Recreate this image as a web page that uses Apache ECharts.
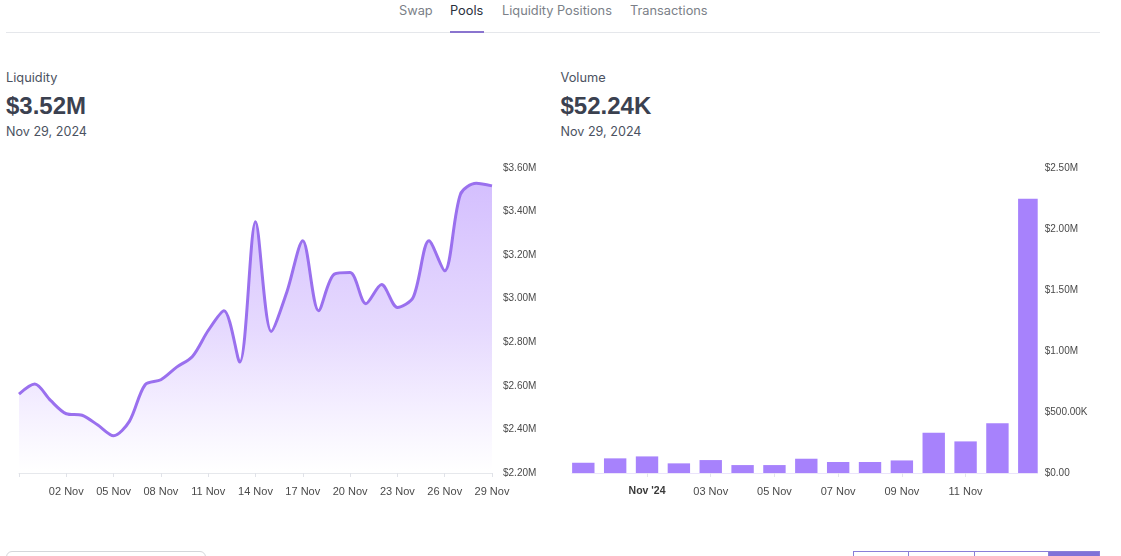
<!DOCTYPE html>
<html lang="en">
<head>
<meta charset="UTF-8">
<title>Pools</title>
<script src="https://cdn.jsdelivr.net/npm/echarts@6/dist/echarts.min.js"></script>
<style>
    html, body { margin: 0; width: 1121px; height: 556px; overflow: hidden; background: #fff; font-family: Inter, sans-serif; }
    .abs { position: absolute; white-space: nowrap; }
    .tab { top: 2px; font-size: 12.8px; line-height: 18px; color: #7b7f88; }
    .label { top: 69px; font-size: 12.8px; line-height: 18px; color: #4b5261; }
    .value { top: 91px; font-size: 24px; line-height: 30px; font-weight: 700; color: #3b4150; font-family: "Liberation Sans", sans-serif; }
    .date { top: 123px; font-size: 12.6px; line-height: 18px; color: #4b5261; }
    .btn { position: absolute; top: 551px; height: 20px; box-sizing: border-box; border: 1px solid #8a7fd8; }
</style>
</head>
<body>
<div class="abs tab" style="left:399px">Swap</div>
<div class="abs tab" style="left:450px;color:#2a303c">Pools</div>
<div class="abs tab" style="left:502px">Liquidity Positions</div>
<div class="abs tab" style="left:630px">Transactions</div>
<div class="abs" style="left:6px;top:32px;width:1094px;height:1px;background:#e5e7eb"></div>
<div class="abs" style="left:450px;top:31px;width:34px;height:2px;background:#8a74cf"></div>

<div class="abs label" style="left:6px">Liquidity</div>
<div class="abs value" style="left:6px">$3.52M</div>
<div class="abs date" style="left:6px">Nov 29, 2024</div>
<div class="abs label" style="left:560.5px">Volume</div>
<div class="abs value" style="left:560.5px">$52.24K</div>
<div class="abs date" style="left:560.5px">Nov 29, 2024</div>

<div id="liquidity" class="abs" style="left:0;top:150px;width:550px;height:360px"></div>
<div id="volume" class="abs" style="left:550px;top:150px;width:571px;height:360px"></div>

<div class="abs" style="left:6px;top:551px;width:200px;height:20px;box-sizing:border-box;border:1px solid #d4d6da;border-radius:6px"></div>
<div class="btn" style="left:853px;width:56px"></div>
<div class="btn" style="left:908px;width:67px"></div>
<div class="btn" style="left:974px;width:75px"></div>
<div class="btn" style="left:1048px;width:52px;background:#8072d8"></div>

<script>
    const liquidityDates = ['30 Oct', '31 Oct', '01 Nov', '02 Nov', '03 Nov', '04 Nov', '05 Nov', '06 Nov', '07 Nov', '08 Nov',
        '09 Nov', '10 Nov', '11 Nov', '12 Nov', '13 Nov', '14 Nov', '15 Nov', '16 Nov', '17 Nov', '18 Nov', '19 Nov',
        '20 Nov', '21 Nov', '22 Nov', '23 Nov', '24 Nov', '25 Nov', '26 Nov', '27 Nov', '28 Nov', '29 Nov'];
    const liquidityValues = [2.562, 2.608, 2.533, 2.472, 2.465, 2.42, 2.371, 2.437, 2.605, 2.628,
        2.686, 2.735, 2.854, 2.945, 2.709, 3.353, 2.85, 3.033, 3.266, 2.945, 3.113,
        3.12, 2.977, 3.065, 2.96, 3.006, 3.266, 3.128, 3.48, 3.53, 3.518];

    const volumeDates = ['30 Oct', '31 Oct', "Nov '24", '02 Nov', '03 Nov', '04 Nov', '05 Nov', '06 Nov', '07 Nov', '08 Nov',
        '09 Nov', '10 Nov', '11 Nov', '12 Nov', '13 Nov'];
    const volumeValues = [84000, 120000, 136000, 79000, 106000, 65000, 65000, 117000, 90000, 90000,
        103000, 330000, 259000, 408000, 2247000];
    const volumeTickIndexes = [2, 4, 6, 8, 10, 12];

    const axisTextColor = '#4a4a4a';
    const axisFont = 'Liberation Sans';

    let liquidityChart = echarts.init(document.getElementById('liquidity'));
    liquidityChart.setOption({
        animation: false,
        grid: { left: 19, top: 18, width: 473, height: 305 },
        xAxis: {
            type: 'category',
            boundaryGap: false,
            data: liquidityDates,
            axisLine: { lineStyle: { color: '#e6e8ec' } },
            axisTick: {
                length: 4,
                lineStyle: { color: '#e0e2e8' },
                interval: function (index) { return index % 3 === 0; }
            },
            axisLabel: {
                color: axisTextColor,
                fontFamily: axisFont,
                fontSize: 11,
                margin: 13,
                showMaxLabel: true,
                hideOverlap: false,
                interval: function (index) { return index > 0 && index % 3 === 0; }
            }
        },
        yAxis: {
            type: 'value',
            position: 'right',
            min: 2.2,
            max: 3.6,
            interval: 0.2,
            splitLine: { show: false },
            axisLabel: {
                color: axisTextColor,
                fontFamily: axisFont,
                fontSize: 10,
                margin: 11,
                formatter: function (v) { return '$' + v.toFixed(2) + 'M'; }
            }
        },
        series: [{
            type: 'line',
            data: liquidityValues,
            smooth: 0.3,
            showSymbol: false,
            lineStyle: { color: '#9a70ee', width: 3 },
            areaStyle: {
                color: new echarts.graphic.LinearGradient(0, 0, 0, 1, [
                    { offset: 0, color: '#c1a3fd' },
                    { offset: 0.5, color: '#dac8fd' },
                    { offset: 0.72, color: '#ebe1fe' },
                    { offset: 0.9, color: '#f8f5ff' },
                    { offset: 1, color: '#ffffff' }
                ])
            }
        }]
    });

    // last bar is cut off by the right edge of the plot, so bars are clipped to the grid here
    function renderVolumeBar(params, api) {
        let x = api.coord([api.value(0), 0])[0];
        let top = api.coord([api.value(0), api.value(1)])[1];
        let bottom = api.coord([api.value(0), 0])[1];
        let barWidth = api.size([0.703, 0])[0];
        let rect = echarts.graphic.clipRectByRect(
            { x: x - barWidth / 2, y: top, width: barWidth, height: bottom - top },
            { x: params.coordSys.x, y: params.coordSys.y, width: params.coordSys.width, height: params.coordSys.height }
        );
        return { type: 'rect', shape: rect, style: api.style() };
    }

    let volumeChart = echarts.init(document.getElementById('volume'));
    volumeChart.setOption({
        animation: false,
        grid: { left: 22, top: 18, width: 465.7, height: 305 },
        xAxis: {
            type: 'value',
            min: -0.355,
            max: 14.264,
            splitLine: { show: false },
            axisLine: { show: true, lineStyle: { color: '#ebe4fb' } },
            axisTick: { show: true, length: 4, lineStyle: { color: '#e4e4ec' }, customValues: volumeTickIndexes },
            axisLabel: {
                customValues: volumeTickIndexes,
                color: axisTextColor,
                fontFamily: axisFont,
                fontSize: 11,
                margin: 13,
                formatter: function (v) {
                    return v === 2 ? '{first|' + volumeDates[v] + '}' : volumeDates[v];
                },
                rich: { first: { fontWeight: 'bold', fontFamily: axisFont, fontSize: 10.5, color: '#3a3a3a' } }
            }
        },
        yAxis: {
            type: 'value',
            position: 'right',
            min: 0,
            max: 2500000,
            interval: 500000,
            splitLine: { show: false },
            axisLine: { show: false },
            axisTick: { show: false },
            axisLabel: {
                color: axisTextColor,
                fontFamily: axisFont,
                fontSize: 10,
                margin: 7,
                formatter: function (v) {
                    if (v === 0) return '$0.00';
                    return v < 1000000 ? '$' + (v / 1000).toFixed(2) + 'K' : '$' + (v / 1000000).toFixed(2) + 'M';
                }
            }
        },
        series: [{
            type: 'custom',
            data: volumeValues.map(function (v, i) { return [i, v]; }),
            renderItem: renderVolumeBar,
            encode: { x: 0, y: 1 },
            clip: true,
            itemStyle: { color: '#a782fc' }
        }]
    });
</script>
</body>
</html>
